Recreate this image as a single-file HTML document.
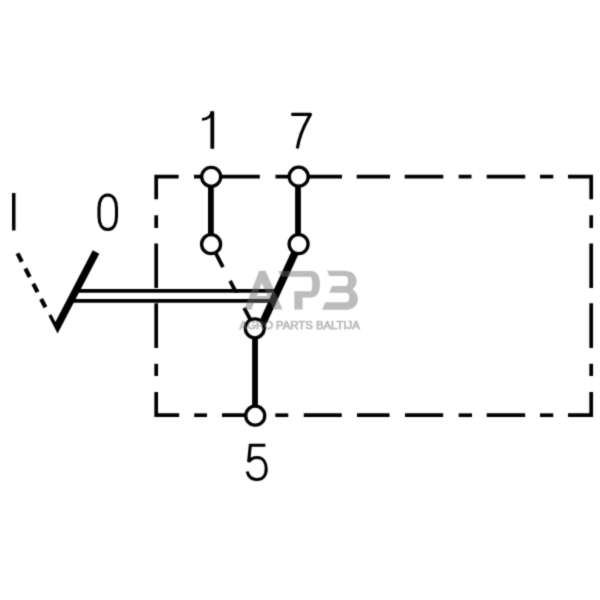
<!DOCTYPE html>
<html><head><meta charset="utf-8">
<style>
html,body{margin:0;padding:0;background:#fff;width:600px;height:600px;overflow:hidden}
svg{display:block}
.wrap{width:600px;height:600px}
</style></head>
<body><div class="wrap">
<svg width="600" height="600" viewBox="0 0 600 600">
<defs><filter id="bl" x="0" y="0" width="600" height="600" filterUnits="userSpaceOnUse" color-interpolation-filters="sRGB"><feConvolveMatrix order="3" kernelMatrix="0.03 0.1 0.03 0.1 0.48 0.1 0.03 0.1 0.03" edgeMode="duplicate"/></filter><filter id="gs" x="-5%" y="-50%" width="110%" height="200%"><feOffset dx="0" dy="0"/></filter></defs>
<rect width="600" height="600" fill="#fff"/>
<g filter="url(#bl)">
<!-- dashed rectangle -->
<g stroke="#000" stroke-width="3.7" fill="none" stroke-linecap="butt" stroke-linejoin="miter">
  <path d="M156.2,199.3 V176.6 H178.6"/>
  <path d="M194,176.6 H259.8"/>
  <path d="M275.5,176.6 H342"/>
  <path d="M356.7,176.6 H390"/>
  <path d="M404.7,176.6 H443.3"/>
  <path d="M458.7,176.6 H471.5"/>
  <path d="M486.7,176.6 H525.2"/>
  <path d="M540,176.6 H553.3"/>
  <path d="M568,176.6 H591.2 V199.3"/>
  <!-- left edge -->
  <path d="M156.2,215.3 V228"/>
  <path d="M156.2,243.5 V288"/>
  <path d="M156.2,303.3 V348"/>
  <path d="M156.2,363.8 V376"/>
  <!-- right edge -->
  <path d="M591.2,215.3 V228"/>
  <path d="M591.2,243.5 V288"/>
  <path d="M591.2,303.3 V348"/>
  <path d="M591.2,363.8 V376"/>
  <!-- bottom -->
  <path d="M156.2,392 V415.2 H179.2"/>
  <path d="M194.2,415.2 H207"/>
  <path d="M222,415.2 H256"/>
  <path d="M275.3,415.2 H288.3"/>
  <path d="M303.75,415.2 H341.75"/>
  <path d="M357,415.2 H389.5"/>
  <path d="M405,415.2 H443.2"/>
  <path d="M458.7,415.2 H472"/>
  <path d="M486.7,415.2 H525.2"/>
  <path d="M540,415.2 H553.3"/>
  <path d="M568,415.2 H591.2 V392"/>
</g>
<!-- verticals -->
<g stroke="#000" stroke-width="5.8" fill="none">
  <path d="M210.9,178 V243"/>
  <path d="M298,178 V243"/>
  <path d="M255,330 V414"/>
</g>
<!-- thin dashed diagonal -->
<path d="M216,253.7 L254.8,328.3" stroke="#000" stroke-width="3.8" fill="none" stroke-dasharray="15 15.5"/>
<!-- I dashed -->
<path d="M17.5,253.4 L47.9,312" stroke="#000" stroke-width="4.2" fill="none" stroke-dasharray="9.4 7.7"/>
<!-- double line -->
<path d="M80,295.9 H268" stroke="#fff" stroke-width="6.4" fill="none"/>
<g stroke="#000" stroke-width="3.7" fill="none">
  <path d="M76,290.9 H274"/>
  <path d="M70,300.9 H270"/>
</g>
<!-- V lever -->
<polygon points="48.38,315.86 57.6,333.6 99.3,253.7 92.74,250.28 55.35,321.9 51.4,314.3" fill="#000"/>
<!-- thick diagonal -->
<path d="M299,244.1 L260.2,328.3" stroke="#000" stroke-width="7.6" fill="none"/>
<!-- circles -->
<g stroke="#000" stroke-width="3.3" fill="#fff">
  <circle cx="211.2" cy="176.8" r="9.5"/>
  <circle cx="298.7" cy="176.7" r="9.5"/>
  <circle cx="211.1" cy="244.2" r="9.5"/>
  <circle cx="298.6" cy="244.1" r="9.5"/>
  <circle cx="254.8" cy="328.3" r="9.5"/>
  <circle cx="255.25" cy="415.7" r="9.5"/>
</g>
<!-- labels -->
<rect x="12" y="193" width="3.5" height="37.5" fill="#000"/>
<g stroke="#000" stroke-width="3.1" fill="none" stroke-linecap="butt">
  <path d="M107.75,195 C114,195 116.5,201.5 116.5,208.5 V216 C116.5,223 114,229.5 107.75,229.5 C101.5,229.5 99,223 99,216 V208.5 C99,201.5 101.5,195 107.75,195 Z"/>
  <path d="M212.3,111.3 V148.75" stroke-width="3.8"/>
  <path d="M202,119.3 C207,119.3 210.8,117 212.2,111.5" stroke-width="2.7"/>
  <path d="M291.25,114.35 H310.5 C307,121 300,131 297.3,148.5" stroke-linejoin="round"/>
  <path d="M265.4,445.3 H250.3 L248.6,462 C250.5,459 253.5,457.5 257.2,457.5 C263,457.5 266.2,462.5 266.2,469 C266.2,475.5 262.5,479.5 257,479.5 C252,479.5 248.3,476.5 247.2,471.5"/>
</g>
<!-- watermark -->
<g fill="rgb(109,109,109)" opacity="0.46">
  <polygon points="244.25,309.4 259.25,270.7 265.5,270.7 282.6,309.4 273.5,309.4 261.75,283 251.5,309.4"/>
  <rect x="250" y="296" width="22" height="6.5"/>
  <path d="M278.3,270.9 H311 C316.5,270.9 320,275.5 320,284.2 C320,292.5 316.5,297.5 311,297.5 H302.6 V309.4 H294.3 V291.3 H310.3 C311.7,291.3 312.2,288 312.2,284.2 C312.2,280 311.7,276.8 310.3,276.8 H281 Z"/>
  <path d="M327.1,270.7 H344 C351.5,270.7 356.7,274.5 356.7,281 C356.7,284.6 355,287.5 352.3,289.3 C355.8,291.2 357.9,295 357.9,299.7 C357.9,305.6 353,309.8 345,309.8 H322.1 L325.4,302.3 H345 C348.7,302.3 349.3,300 349.3,297.5 C349.3,295 348.7,292.75 345,292.75 H329.2 L332.1,286.1 H344.5 C347.5,286.1 348,284 348,281.1 C348,278.2 347.5,276.1 344.5,276.1 H329.2 Z"/>
  <text x="239.6" y="328.7" font-family="Liberation Sans" font-size="10.1" stroke="rgb(109,109,109)" stroke-width="0.75" textLength="120.2" lengthAdjust="spacingAndGlyphs" filter="url(#gs)">AGRO PARTS BALTIJA</text>
</g>
</g>
</svg>
</div></body></html>
